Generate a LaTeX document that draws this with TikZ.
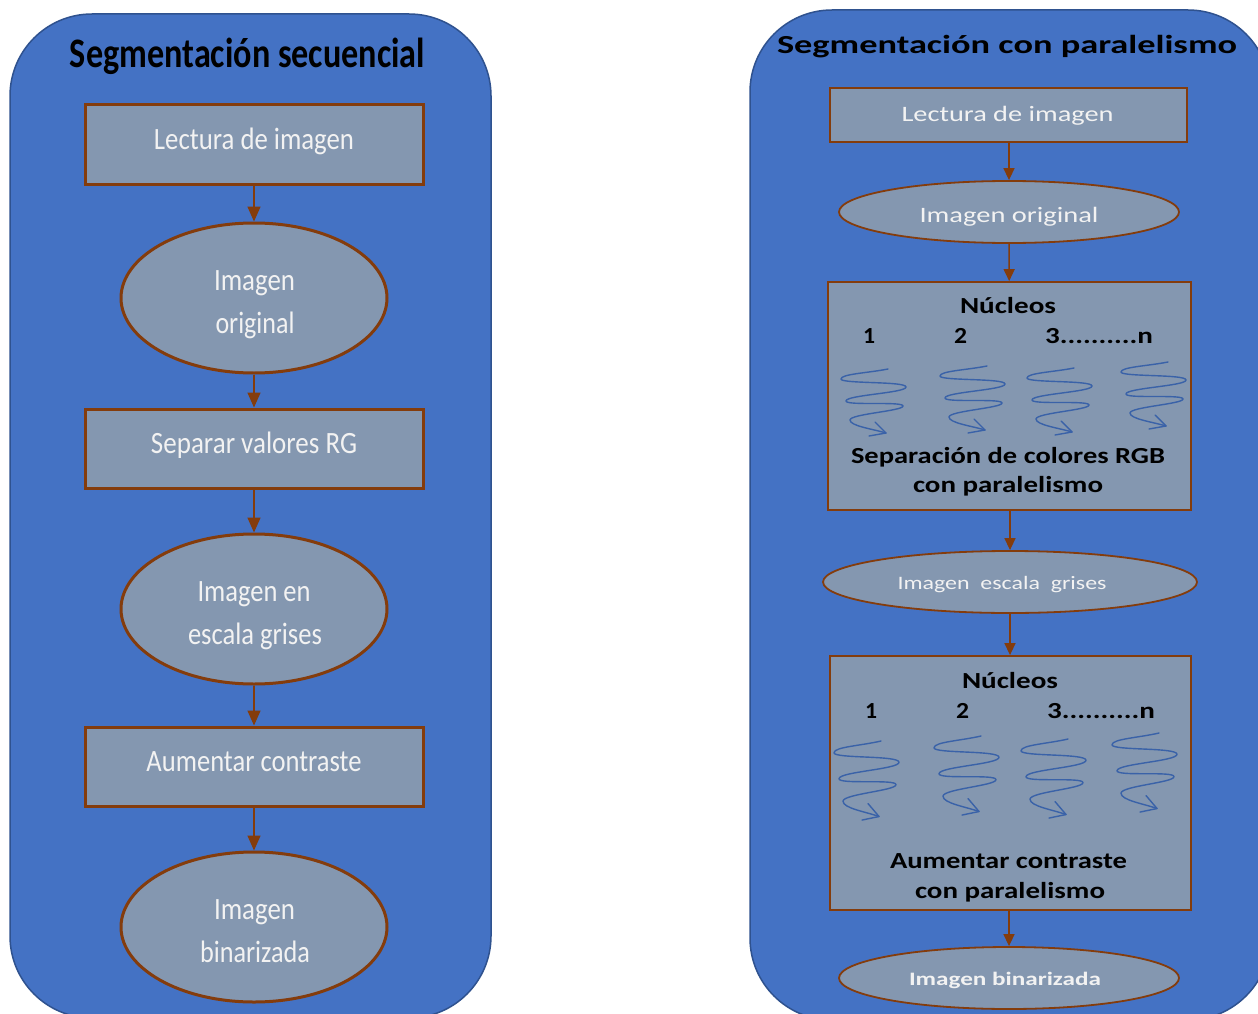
\documentclass[tikz,border=0pt]{standalone}
\usepackage{graphicx}
\usepackage{fontspec}
\setmainfont{Carlito}
\usetikzlibrary{shapes.geometric,arrows.meta}
\definecolor{panelblue}{HTML}{4472C4}
\definecolor{panelline}{HTML}{2F528F}
\definecolor{boxfill}{HTML}{8497B0}
\definecolor{boxline}{HTML}{843C0C}
\definecolor{squigcol}{HTML}{3A62A8}
\definecolor{softwhite}{HTML}{F2F2F2}
\newcommand\wt[3]{\resizebox{#1pt}{\height}{\fontsize{#2pt}{#2pt}\selectfont #3}}
% text line lowered by #1 from the node centre, with no height of its own
\newcommand\lw[2]{\raisebox{-#1pt}[0pt][0pt]{#2}}
\tikzset{
  x=1pt,y=-1pt,
  panel/.style={draw=panelline,line width=1.5pt,fill=panelblue,rounded corners=82pt,inner sep=0pt},
  lbox/.style={draw=boxline,line width=3pt,fill=boxfill,minimum width=338pt,minimum height=79pt,inner sep=0pt,text=softwhite,font=\fontsize{31pt}{43pt}\selectfont},
  lell/.style={ellipse,draw=boxline,line width=3pt,fill=boxfill,minimum width=266pt,minimum height=150pt,inner sep=0pt,text=softwhite,align=center,font=\fontsize{31pt}{43pt}\selectfont},
  rbox/.style={draw=boxline,line width=1.8pt,fill=boxfill,inner sep=0pt,text=softwhite},
  rell/.style={ellipse,draw=boxline,line width=1.8pt,fill=boxfill,inner sep=0pt,text=softwhite},
  ltext/.style={inner sep=0pt,align=center,text=black},
  larrow/.style={draw=boxline,line width=1.5pt,-{Triangle[length=15pt,width=13pt]}},
  rarrow/.style={draw=boxline,line width=1.5pt,-{Triangle[length=12pt,width=11pt]}},
  squiggle/.style={draw=squigcol,line width=1.4pt,line cap=round,line join=round},
  pics/squig/.style={code={
    \draw[squiggle] (0,0) .. controls (-20,4) and (-47,5) .. (-47,10)
      .. controls (-47,15) and (18,12) .. (18,18)
      .. controls (18,24) and (-42,26) .. (-42,32)
      .. controls (-42,37) and (15,32) .. (15,37)
      .. controls (15,42) and (-38,45) .. (-38,51)
      .. controls (-38,57) and (-15,60) .. (-2,64);
    \draw[squiggle] (-13,53) -- (-2,64) -- (-19,67);
  }},
}
\begin{document}
\begin{tikzpicture}
\useasboundingbox (0,0) rectangle (1258,1014);
\clip (0,0) rectangle (1258,1014);
\fill[white] (0,0) rectangle (1258,1014);
% panels
\node[panel,minimum width=481pt,minimum height=1004pt] (pl) at (250.5,516) {};
\node[panel,minimum width=520pt,minimum height=1010pt] (pr) at (1010,515) {};
% left column
\node[ltext] (tl) at (247.5,56) {\wt{355}{42}{\bfseries Segmentación secuencial}};
\node[lbox] (l1) at (254,144.5) {\lw{5}{\wt{200}{31}{Lectura de imagen}}};
\node[lell] (l2) at (254,298) {\lw{14}{\hspace*{1pt}\wt{81}{31}{Imagen}}\\\lw{14}{\hspace*{2pt}\wt{79}{31}{original}}};
\node[lbox] (l3) at (254,448.5) {\lw{4.5}{\wt{206}{31}{Separar valores RG}}};
\node[lell] (l4) at (254,609) {\lw{14}{\wt{113}{31}{Imagen en}}\\\lw{14}{\hspace*{2pt}\wt{134}{31}{escala grises}}};
\node[lbox] (l5) at (254,766.5) {\lw{5}{\wt{215}{31}{Aumentar contraste}}};
\node[lell] (l6) at (254,927) {\lw{14}{\hspace*{1pt}\wt{81}{31}{Imagen}}\\\lw{14}{\hspace*{2pt}\wt{110}{31}{binarizada}}};
\draw[larrow] (l1) -- (l2);
\draw[larrow] (l2) -- (l3);
\draw[larrow] (l3) -- (l4);
\draw[larrow] (l4) -- (l5);
\draw[larrow] (l5) -- (l6);
% right column
\node[ltext] (tr) at (1007,47) {\wt{460}{26}{\bfseries Segmentación con paralelismo}};
\node[rbox,minimum width=357pt,minimum height=54pt] (r1) at (1008.5,115) {\lw{6}{\hspace*{-2pt}\wt{212}{22}{Lectura de imagen}}};
\node[rell,minimum width=340pt,minimum height=62pt] (r2) at (1009,212) {\lw{10}{\wt{179}{22}{Imagen original}}};
\node[rbox,minimum width=363pt,minimum height=228pt] (r3) at (1009.5,396) {};
\node[rell,minimum width=374pt,minimum height=62pt] (r4) at (1010,582) {\lw{7.5}{\hspace*{-16pt}\wt{209}{19}{Imagen\ \ escala\ \ grises}}};
\node[rbox,minimum width=361pt,minimum height=254pt] (r5) at (1010.5,783) {};
\node[rell,minimum width=340pt,minimum height=62pt] (r6) at (1009,978) {\lw{7.5}{\hspace*{-8pt}\wt{192}{19}{\bfseries Imagen\ binarizada}}};
\draw[rarrow] (r1.south -| r2.north) -- (r2);
\draw[rarrow] (r2) -- (r3);
\draw[rarrow] (r3.south -| r4.north) -- (r4);
\draw[rarrow] (r4) -- (r5.north -| r4.north);
\draw[rarrow] (r5.south -| r6.north) -- (r6);
% first nucleus box
\node[ltext] (n1) at (1008,306) {\wt{96}{23}{\bfseries Núcleos}};
\node[ltext] (n1a) at (869,336) {\wt{12}{23}{\bfseries 1}};
\node[ltext] (n1b) at (960.5,336) {\wt{13}{23}{\bfseries 2}};
\node[ltext] (n1c) at (1099,336) {\wt{108}{23}{\bfseries 3..........n}};
\pic at (888,369) {squig};
\pic at (987,366) {squig};
\pic at (1074,368) {squig};
\pic at (1168,362) {squig};
\node[ltext] (s1) at (1008,457) {\wt{314}{23}{\bfseries Separación de colores RGB}};
\node[ltext] (s2) at (1008,486) {\wt{190}{23}{\bfseries con paralelismo}};
% second nucleus box
\node[ltext] (n2) at (1010,681) {\wt{96}{23}{\bfseries Núcleos}};
\node[ltext] (n2a) at (871,711) {\wt{12}{23}{\bfseries 1}};
\node[ltext] (n2b) at (962.5,711) {\wt{13}{23}{\bfseries 2}};
\node[ltext] (n2c) at (1101,711) {\wt{108}{23}{\bfseries 3..........n}};
\pic[yscale=1.18] at (881,741) {squig};
\pic[yscale=1.18] at (981,736) {squig};
\pic[yscale=1.18] at (1068,739) {squig};
\pic[yscale=1.18] at (1159,733) {squig};
\node[ltext] (a1) at (1008.5,861) {\wt{237}{23}{\bfseries Aumentar contraste}};
\node[ltext] (a2) at (1010,892) {\wt{190}{23}{\bfseries con paralelismo}};
\end{tikzpicture}
\end{document}
